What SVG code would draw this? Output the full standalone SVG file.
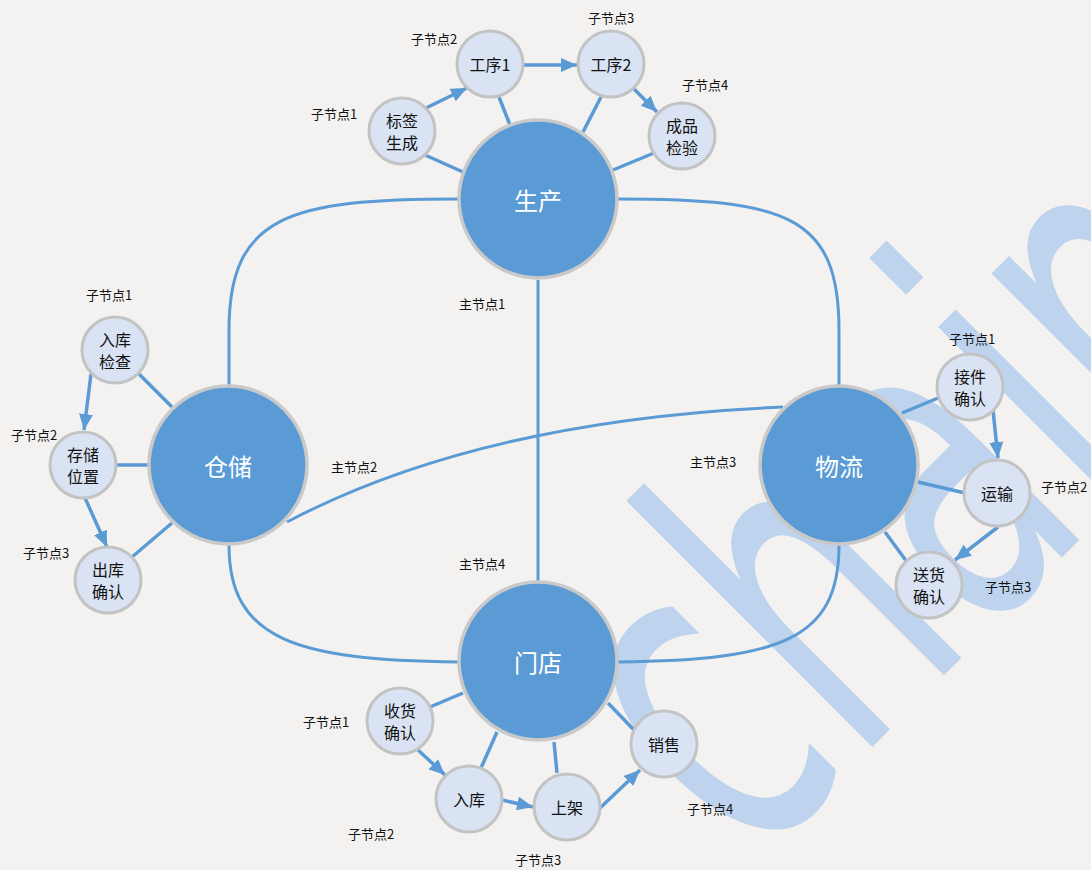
<svg xmlns="http://www.w3.org/2000/svg" width="1091" height="870" viewBox="0 0 1091 870">
<defs>
<marker id="arr" markerUnits="userSpaceOnUse" markerWidth="16" markerHeight="14" refX="16" refY="7" orient="auto">
<path d="M0,0 L16,7 L0,14 z" fill="#5b9bd5"/>
</marker>
<style>
.main circle{fill:#5b9bd5;stroke:#c9c9c9;stroke-width:3.5}
.sub circle{fill:#dae3f3;stroke:#c3c3c3;stroke-width:3}
.mt{font-family:"Noto Sans CJK SC",sans-serif;font-size:24px;fill:#fff;text-anchor:middle;dominant-baseline:central}
.st{font-family:"Noto Sans CJK SC",sans-serif;font-size:16px;fill:#111;text-anchor:middle;dominant-baseline:central}
.lb{font-family:"Noto Sans CJK SC",sans-serif;font-size:13px;fill:#111;text-anchor:middle;dominant-baseline:central}
.c{fill:none;stroke:#5b9bd5;stroke-width:3}
.s{fill:none;stroke:#5b9bd5;stroke-width:3.5}
.a{fill:none;stroke:#5b9bd5;stroke-width:3.5;marker-end:url(#arr)}
</style>
</defs>
<rect width="1091" height="870" fill="#f3f2f0"/>
<text transform="rotate(-45) scale(0.6,1)" x="-145.5" y="1145" font-family="DejaVu Sans" font-size="458" fill="#bdd3ee">chain</text>

<g id="connectors">
<path class="c" d="M458,199 C290,199 229,215 229,330 L229,385"/>
<path class="c" d="M618,199 C786,199 839,215 839,330 L839,385"/>
<path class="c" d="M458,662 C296,660 229,640 229,545"/>
<path class="c" d="M618,662 C780,660 839,640 839,545"/>
<path class="c" d="M538,280 L538,581"/>
<path class="c" d="M287,522 Q480,420 783,407"/>

<line class="s" x1="425" y1="155" x2="463" y2="172"/>
<line class="s" x1="499" y1="97" x2="510" y2="125"/>
<line class="s" x1="601" y1="97" x2="583" y2="132"/>
<line class="s" x1="654" y1="153" x2="613" y2="170"/>
<line class="a" x1="426" y1="108" x2="467" y2="88"/>
<line class="a" x1="523" y1="65" x2="577" y2="65"/>
<line class="a" x1="633" y1="88" x2="657" y2="112"/>

<line class="s" x1="138" y1="373" x2="172" y2="407"/>
<line class="s" x1="117" y1="465" x2="148" y2="465"/>
<line class="s" x1="132" y1="557" x2="172" y2="523"/>
<line class="a" x1="91" y1="374" x2="84" y2="430"/>
<line class="a" x1="85" y1="498" x2="107" y2="547"/>

<line class="s" x1="938" y1="398" x2="902" y2="413"/>
<line class="s" x1="965" y1="493" x2="918" y2="482"/>
<line class="s" x1="907" y1="562" x2="885" y2="532"/>
<line class="a" x1="993" y1="410" x2="998" y2="458"/>
<line class="a" x1="998" y1="527" x2="955" y2="560"/>

<line class="s" x1="430" y1="707" x2="463" y2="693"/>
<line class="s" x1="481" y1="768" x2="497" y2="732"/>
<line class="s" x1="557" y1="773" x2="554" y2="742"/>
<line class="s" x1="634" y1="730" x2="608" y2="703"/>
<line class="a" x1="418" y1="750" x2="445" y2="775"/>
<line class="a" x1="502" y1="800" x2="533" y2="807"/>
<line class="a" x1="600" y1="808" x2="640" y2="770"/>
</g>

<g id="n-shengchan" class="main"><circle cx="538" cy="199" r="79"/><text class="mt" x="538" y="199">生产</text></g>
<g id="n-cangchu" class="main"><circle cx="228" cy="465" r="79"/><text class="mt" x="228" y="465">仓储</text></g>
<g id="n-wuliu" class="main"><circle cx="839" cy="465" r="79"/><text class="mt" x="839" y="465">物流</text></g>
<g id="n-mendian" class="main"><circle cx="538" cy="661" r="79"/><text class="mt" x="538" y="661">门店</text></g>

<g id="n-biaoqian" class="sub"><circle cx="402" cy="131" r="33"/><text class="st" x="402" y="120">标签</text><text class="st" x="402" y="142">生成</text></g>
<g id="n-gongxu1" class="sub"><circle cx="490" cy="64" r="33"/><text class="st" x="490" y="64">工序1</text></g>
<g id="n-gongxu2" class="sub"><circle cx="611" cy="64" r="33"/><text class="st" x="611" y="64">工序2</text></g>
<g id="n-chengpin" class="sub"><circle cx="682" cy="136" r="33"/><text class="st" x="682" y="125">成品</text><text class="st" x="682" y="147">检验</text></g>

<g id="n-rukujiancha" class="sub"><circle cx="115" cy="350" r="33"/><text class="st" x="115" y="339">入库</text><text class="st" x="115" y="361">检查</text></g>
<g id="n-cunchu" class="sub"><circle cx="83" cy="465" r="33"/><text class="st" x="83" y="454">存储</text><text class="st" x="83" y="476">位置</text></g>
<g id="n-chuku" class="sub"><circle cx="108" cy="580" r="33"/><text class="st" x="108" y="569">出库</text><text class="st" x="108" y="591">确认</text></g>

<g id="n-jiejian" class="sub"><circle cx="970" cy="387" r="33"/><text class="st" x="970" y="376">接件</text><text class="st" x="970" y="398">确认</text></g>
<g id="n-yunshu" class="sub"><circle cx="997" cy="493" r="33"/><text class="st" x="997" y="493">运输</text></g>
<g id="n-songhuo" class="sub"><circle cx="929" cy="585" r="33"/><text class="st" x="929" y="574">送货</text><text class="st" x="929" y="596">确认</text></g>

<g id="n-shouhuo" class="sub"><circle cx="400" cy="721" r="33"/><text class="st" x="400" y="710">收货</text><text class="st" x="400" y="732">确认</text></g>
<g id="n-ruku" class="sub"><circle cx="469" cy="799" r="33"/><text class="st" x="469" y="799">入库</text></g>
<g id="n-shangjia" class="sub"><circle cx="567" cy="807" r="33"/><text class="st" x="567" y="807">上架</text></g>
<g id="n-xiaoshou" class="sub"><circle cx="664" cy="744" r="33"/><text class="st" x="664" y="744">销售</text></g>

<g id="labels">
<text class="lb" x="334" y="113">子节点1</text>
<text class="lb" x="434" y="38">子节点2</text>
<text class="lb" x="611" y="17">子节点3</text>
<text class="lb" x="705" y="84">子节点4</text>
<text class="lb" x="109" y="294">子节点1</text>
<text class="lb" x="34" y="434">子节点2</text>
<text class="lb" x="46" y="552">子节点3</text>
<text class="lb" x="972" y="338">子节点1</text>
<text class="lb" x="1064" y="486">子节点2</text>
<text class="lb" x="1008" y="586">子节点3</text>
<text class="lb" x="326" y="721">子节点1</text>
<text class="lb" x="371" y="833">子节点2</text>
<text class="lb" x="538" y="859">子节点3</text>
<text class="lb" x="710" y="808">子节点4</text>
<text class="lb" x="482" y="303">主节点1</text>
<text class="lb" x="354" y="466">主节点2</text>
<text class="lb" x="713" y="461">主节点3</text>
<text class="lb" x="482" y="563">主节点4</text>
</g>
</svg>
